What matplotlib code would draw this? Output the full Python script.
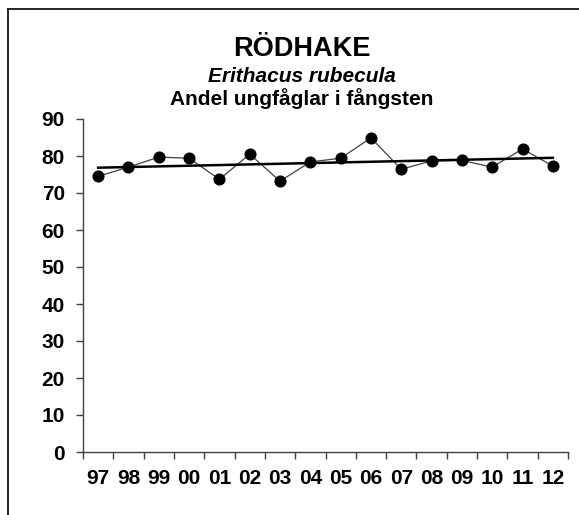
import matplotlib
matplotlib.use("Agg")
import matplotlib.pyplot as plt
from matplotlib.lines import Line2D
import numpy as np

plt.rcParams["font.family"] = ["Liberation Sans", "DejaVu Sans"]

YEARS = ["97", "98", "99", "00", "01", "02", "03", "04",
         "05", "06", "07", "08", "09", "10", "11", "12"]
SHARE_YOUNG = [74.5, 77.0, 79.7, 79.4, 73.7, 80.5, 73.2, 78.4,
               79.4, 84.9, 76.4, 78.7, 78.8, 77.0, 81.9, 77.3]
Y_TICKS = [0, 10, 20, 30, 40, 50, 60, 70, 80, 90]

W, H = 579, 515

fig = plt.figure(figsize=(W / 100, H / 100), dpi=100)
ax = fig.add_axes([83 / W, (H - 452) / H, (568 - 83) / W, (452 - 119) / H])

x = np.arange(len(YEARS))
ax.plot(x, SHARE_YOUNG, color="#404040", linewidth=0.9, zorder=2)
ax.plot(x, SHARE_YOUNG, linestyle="none", marker="o", markersize=7.7,
        color="black", zorder=3)

# linear trend
slope, intercept = np.polyfit(x, SHARE_YOUNG, 1)
ax.plot(x, slope * x + intercept, color="black", linewidth=1.8, zorder=4)

ax.set_xlim(-0.5, len(YEARS) - 0.5)
ax.set_ylim(0, 90)
ax.set_yticks(Y_TICKS)
ax.set_yticklabels([str(v) for v in Y_TICKS], fontsize=15, fontweight="bold")
ax.set_xticks(x)
ax.set_xticklabels(YEARS, fontsize=15, fontweight="bold")
ax.set_xticks(np.arange(-0.5, len(YEARS)), minor=True)
ax.tick_params(axis="x", which="major", length=0, pad=12)
ax.tick_params(axis="x", which="minor", length=5, width=1, color="#404040")
ax.tick_params(axis="y", length=5, width=1, color="#404040", pad=8)

for side in ("top", "right"):
    ax.spines[side].set_visible(False)
for side in ("left", "bottom"):
    ax.spines[side].set_color("#404040")
    ax.spines[side].set_linewidth(1)

cx = 302 / W
fig.text(cx, 1 - 56 / H, "RÖDHAKE", ha="center", va="baseline",
         fontsize=19.5, fontweight="bold")
fig.text(cx, 1 - 82 / H, "Erithacus rubecula", ha="center", va="baseline",
         fontsize=15, fontweight="bold", style="italic")
fig.text(cx, 1 - 105 / H, "Andel ungfåglar i fångsten", ha="center", va="baseline",
         fontsize=15, fontweight="bold")

# outer frame (cut off at right and bottom)
fig.add_artist(Line2D([8 / W, 8 / W], [0, 1 - 9 / H], color="black", linewidth=1.2))
fig.add_artist(Line2D([8 / W, 1], [1 - 9 / H, 1 - 9 / H], color="black", linewidth=1.2))

fig.savefig("out.png", dpi=100)
